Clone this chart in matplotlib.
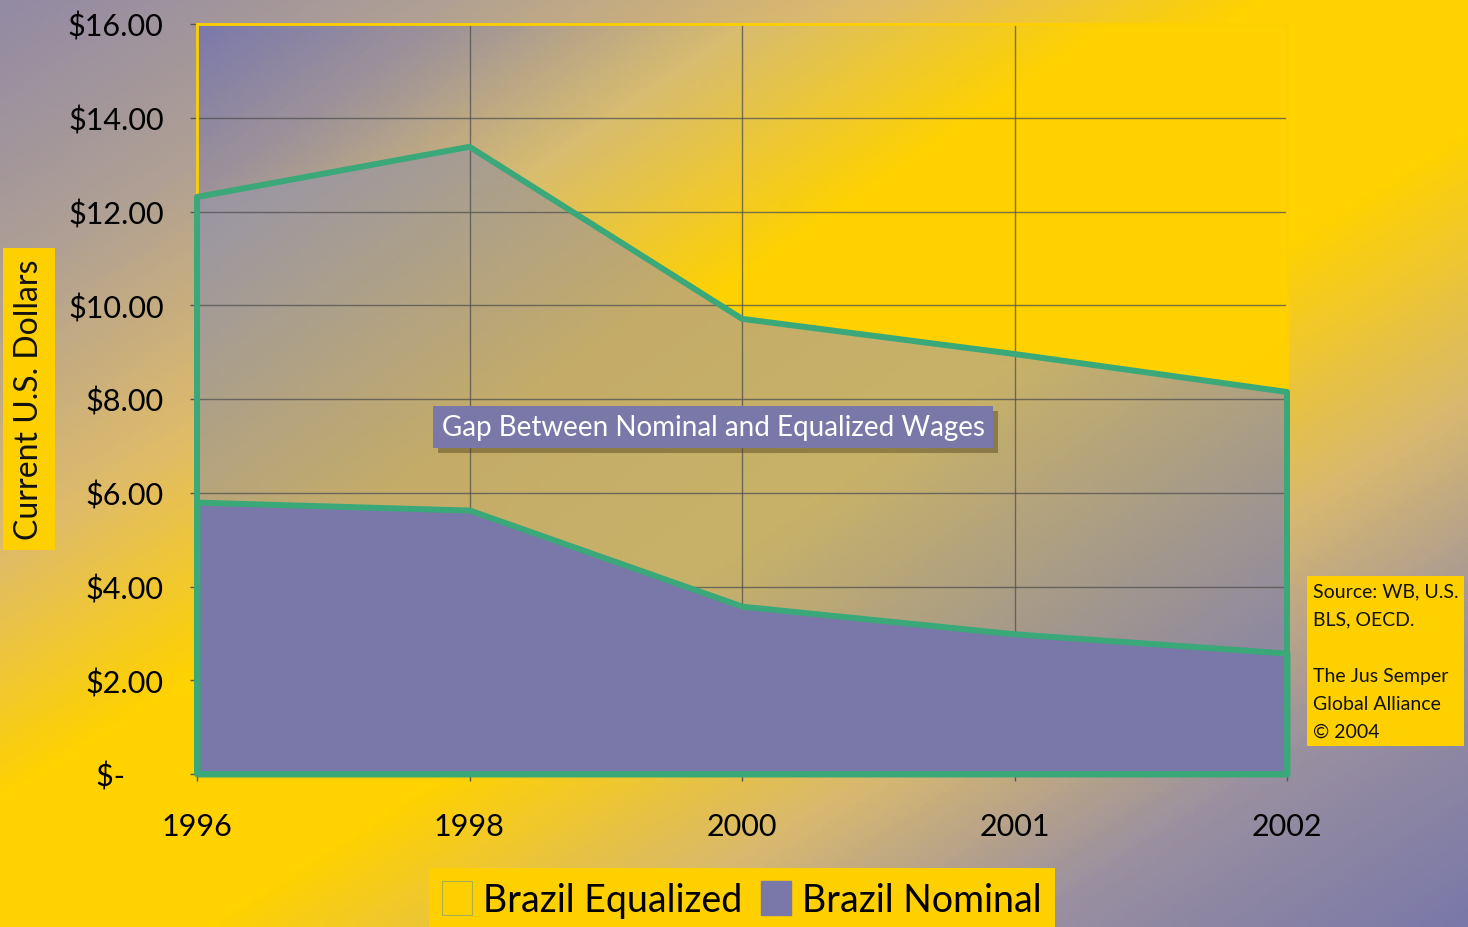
import numpy as np
import matplotlib
matplotlib.use('Agg')
import matplotlib.pyplot as plt
from matplotlib.colors import LinearSegmentedColormap
from matplotlib.patches import Patch, Rectangle

plt.rcParams['font.family'] = ['Lato', 'DejaVu Sans']

# data
years = ['1996', '1998', '2000', '2001', '2002']
equalized = [12.31, 13.38, 9.71, 8.96, 8.15]
nominal = [5.80, 5.63, 3.58, 2.99, 2.58]
y_ticks = [0, 2, 4, 6, 8, 10, 12, 14, 16]

YELLOW = '#ffd000'
PURPLE = '#7a78a8'
GREEN = '#3aa878'

W, H = 1468, 928
fig = plt.figure(figsize=(W / 100, H / 100), dpi=100)

# figure background: diagonal purple -> yellow -> purple
bg_cmap = LinearSegmentedColormap.from_list('bg', [
    (0.0, '#938aa4'), (0.15, '#b0a094'), (0.30, '#e0bc68'), (0.43, '#ffd200'),
    (0.57, '#ffd200'), (0.72, '#d8b870'), (0.85, '#9a90a0'), (1.0, '#7a78a8')])
gx, gy = np.meshgrid(np.linspace(0, 1, 300), np.linspace(0, 1, 200))
bg = fig.add_axes([0, 0, 1, 1], zorder=-10)
bg.imshow((gx + gy) / 2, cmap=bg_cmap, aspect='auto', extent=(0, 1, 0, 1),
          origin='upper', vmin=0, vmax=1)
bg.axis('off')

ax = fig.add_axes([197 / W, 1 - 775 / H, (1287 - 197) / W, (775 - 25) / H])
x = np.arange(len(years))
ax.set_xlim(0, len(years) - 1)
ax.set_ylim(0, 16)
ax.set_axisbelow(True)

# plot-area background gradient
pa_cmap = LinearSegmentedColormap.from_list('pa', [
    (0.0, '#7b79ab'), (0.12, '#a09498'), (0.25, '#d8bc70'), (0.42, '#ffd200'),
    (1.0, '#ffd000')])
ax.imshow((gx + gy) / 2, cmap=pa_cmap, aspect='auto',
          extent=(0, len(years) - 1, 0, 16), origin='upper', vmin=0, vmax=1,
          zorder=0.1)

# equalized area with its own gradient
gap_cmap = LinearSegmentedColormap.from_list('gap', [
    (0.0, '#8f8aa6'), (0.15, '#9e98a0'), (0.40, '#c4ac68'), (0.60, '#c8b268'),
    (0.9, '#908aa0'), (1.0, '#8a86a6')])
eq_poly = ax.fill_between(x, 0, equalized, facecolor='none', edgecolor=GREEN,
                          linewidth=4.3, zorder=3, clip_on=False)
gap_img = ax.imshow((gx + gy) / 2, cmap=gap_cmap, aspect='auto',
                    extent=(0, len(years) - 1, 0, 16), origin='upper',
                    vmin=0, vmax=1, zorder=0.2)
gap_img.set_clip_path(eq_poly.get_paths()[0], transform=ax.transData)

ax.fill_between(x, 0, nominal, facecolor=PURPLE, edgecolor=GREEN,
                linewidth=4.3, zorder=2, clip_on=False)

ax.grid(True, color='#505050', linewidth=1, alpha=0.75)
ax.set_xticks(x)
ax.set_xticklabels(years)
ax.set_yticks(y_ticks)
ax.set_yticklabels(['$-     ' if v == 0 else '$%.2f' % v for v in y_ticks])
ax.tick_params(axis='y', length=5, width=1, color='#555555', pad=19,
               labelsize=22)
ax.tick_params(axis='x', length=5, width=1, color='#555555', pad=22,
               labelsize=22)
for s in ax.spines.values():
    s.set_color(YELLOW)
    s.set_linewidth(2)

# y-axis title in yellow box
fig.text(29 / W, 1 - 400 / H, 'Current U.S. Dollars', rotation=90,
         ha='center', va='center', fontsize=23, color='#111111',
         bbox=dict(boxstyle='square,pad=0.35', facecolor=YELLOW,
                   edgecolor='none'))

# annotation box with drop shadow
gap_label = fig.text(713 / W, 1 - 428 / H,
                     'Gap Between Nominal and Equalized Wages',
                     ha='center', va='center', fontsize=20, color='white',
                     zorder=5,
                     bbox=dict(boxstyle='square,pad=0.3', facecolor=PURPLE,
                               edgecolor='none'))
fig.canvas.draw()
bb = gap_label.get_bbox_patch().get_window_extent(fig.canvas.get_renderer())
fig.patches.append(Rectangle((bb.x0 + 5, bb.y0 - 5), bb.width, bb.height,
                             transform=None, facecolor=(0.3, 0.25, 0.1, 0.45),
                             edgecolor='none', zorder=4))

# source box
fig.text(1313 / W, 1 - 662 / H,
         'Source: WB, U.S.\nBLS, OECD.\n\nThe Jus Semper\nGlobal Alliance\n\u00a9 2004',
         ha='left', va='center', fontsize=14, linespacing=1.8,
         color='#111111',
         bbox=dict(boxstyle='square,pad=0.3', facecolor=YELLOW,
                   edgecolor='none'))

# legend
handles = [Patch(facecolor=YELLOW, edgecolor='#a8b048', linewidth=0.8),
           Patch(facecolor=PURPLE, edgecolor=PURPLE)]
fig.legend(handles, ['Brazil Equalized', 'Brazil Nominal'],
           loc='lower center', bbox_to_anchor=(742 / W, -0.004), ncol=2,
           fontsize=27, frameon=True, facecolor=YELLOW, edgecolor='none',
           fancybox=False, framealpha=1, borderpad=0.35, handlelength=0.8,
           handleheight=1.0, handletextpad=0.3, columnspacing=0.5,
           borderaxespad=0)

fig.savefig('out.png', dpi=100)
